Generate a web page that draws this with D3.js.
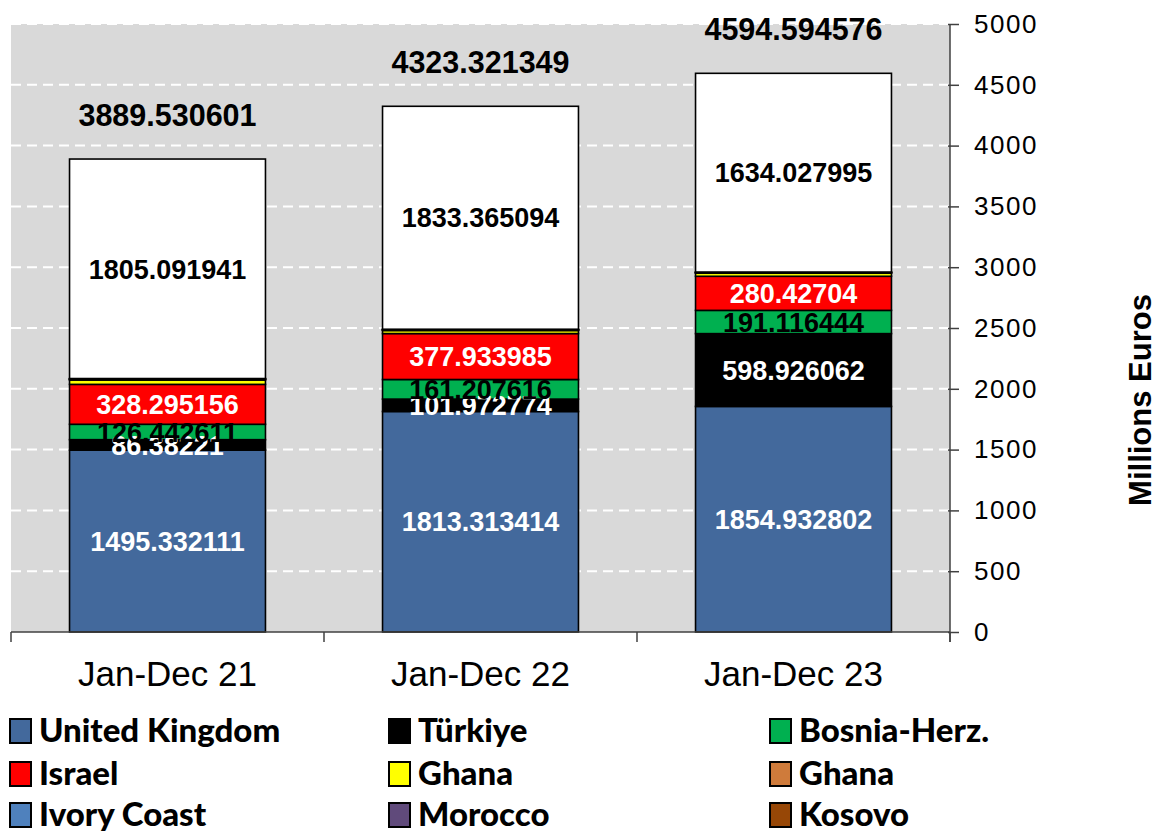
<!DOCTYPE html>
<html>
<head>
<meta charset="utf-8">
<script src="https://cdn.jsdelivr.net/npm/d3@7"></script>
<style>
  body { margin: 0; background: #fff; }
  svg { display: block; }
</style>
</head>
<body>
<div id="chart"></div>
<script>
// Données
const periods = ["Jan-Dec 21", "Jan-Dec 22", "Jan-Dec 23"];
const totals = ["3889.530601", "4323.321349", "4594.594576"];

const unitedKingdom = [1495.332111, 1813.313414, 1854.932802];
const turkiye = [86.38221, 101.972774, 598.926062];
const bosnia = [126.442611, 161.207616, 191.116444];
const israel = [328.295156, 377.933985, 280.42704];
const ghanaYellow = [36, 25, 25];
const ghanaOrange = [4, 3, 3];
const ivoryCoast = [3, 3, 3];
const morocco = [3, 2, 2];
const kosovo = [2, 2.5, 2];
const others = [1805.091941, 1833.365094, 1634.027995];

const yTicks = [0, 500, 1000, 1500, 2000, 2500, 3000, 3500, 4000, 4500, 5000];

const series = [
  { name: "United Kingdom", values: unitedKingdom, color: "#43699c", label: true, labelColor: "#fff" },
  { name: "Türkiye", values: turkiye, color: "#000000", label: true, labelColor: "#fff" },
  { name: "Bosnia-Herz.", values: bosnia, color: "#00b050", label: true, labelColor: "#000" },
  { name: "Israel", values: israel, color: "#ff0000", label: true, labelColor: "#fff" },
  { name: "Ghana", values: ghanaYellow, color: "#ffff00" },
  { name: "Ghana", values: ghanaOrange, color: "#cf7b3b" },
  { name: "Ivory Coast", values: ivoryCoast, color: "#4f81bd" },
  { name: "Morocco", values: morocco, color: "#604a7b" },
  { name: "Kosovo", values: kosovo, color: "#974706" },
  { name: "Others", values: others, color: "#ffffff", label: true, labelColor: "#000", noLegend: true },
];

const width = 1162;
const height = 835;
const plot = { left: 11, right: 950, top: 24, bottom: 632 };

const svg = d3.select("#chart").append("svg")
  .attr("width", width)
  .attr("height", height);

const x = d3.scaleBand()
  .domain(periods)
  .range([plot.left, plot.right])
  .paddingInner(0.374)
  .paddingOuter(0.187);

const y = d3.scaleLinear()
  .domain([0, 5000])
  .range([plot.bottom, plot.top]);

// Fond gris
svg.append("rect")
  .attr("x", plot.left)
  .attr("y", plot.top)
  .attr("width", plot.right - plot.left)
  .attr("height", plot.bottom - plot.top)
  .attr("fill", "#d9d9d9");

// Grille
svg.append("g")
  .selectAll("line")
  .data(yTicks.filter((d) => d > 0))
  .enter()
  .append("line")
  .attr("x1", plot.left)
  .attr("x2", plot.right)
  .attr("y1", (d) => y(d))
  .attr("y2", (d) => y(d))
  .attr("stroke", "#fff")
  .attr("stroke-width", 2)
  .attr("stroke-dasharray", "10,6");

// Pile
const rows = periods.map((p, i) => {
  const r = { period: p };
  series.forEach((s, k) => (r["s" + k] = s.values[i]));
  return r;
});
const stack = d3.stack().keys(series.map((s, k) => "s" + k));
const layers = stack(rows);

const bars = svg.append("g");
layers.forEach((layer, k) => {
  bars.selectAll(null)
    .data(layer)
    .enter()
    .append("rect")
    .attr("x", (d) => x(d.data.period))
    .attr("y", (d) => y(d[1]))
    .attr("width", x.bandwidth())
    .attr("height", (d) => y(d[0]) - y(d[1]))
    .attr("fill", series[k].color)
    .attr("stroke", "#000")
    .attr("stroke-width", 1.6);
});

// Étiquettes des segments
const labels = svg.append("g")
  .style("font-family", "'Liberation Sans', Arial, sans-serif")
  .style("font-weight", "bold")
  .style("font-size", "27px");
layers.forEach((layer, k) => {
  if (!series[k].label) return;
  labels.selectAll(null)
    .data(layer)
    .enter()
    .append("text")
    .attr("x", (d) => x(d.data.period) + x.bandwidth() / 2)
    .attr("y", (d) => (y(d[0]) + y(d[1])) / 2)
    .attr("dy", "0.36em")
    .attr("text-anchor", "middle")
    .attr("fill", series[k].labelColor)
    .text((d, i) => String(series[k].values[i]));
});

// Totaux
const topLayer = layers[layers.length - 1];
labels.selectAll(null)
  .data(topLayer)
  .enter()
  .append("text")
  .attr("x", (d) => x(d.data.period) + x.bandwidth() / 2)
  .attr("y", (d) => y(d[1]) - 33)
  .attr("text-anchor", "middle")
  .style("font-size", "30.5px")
  .attr("fill", "#000")
  .text((d, i) => totals[i]);

// Axe Y à droite
const yAxis = svg.append("g")
  .attr("transform", `translate(${plot.right},0)`)
  .call(d3.axisRight(y).tickValues(yTicks).tickSize(9).tickPadding(15).tickFormat(d3.format("d")));
yAxis.select(".domain").attr("stroke", "#404040").attr("stroke-width", 1.5).attr("d", `M0,${plot.top}V${plot.bottom + 10}`);
yAxis.selectAll(".tick line").attr("stroke", "#404040").attr("stroke-width", 1.5).attr("x1", -2);
yAxis.selectAll(".tick text")
  .style("font-family", "'Liberation Sans', Arial, sans-serif")
  .style("font-size", "26px")
  .style("letter-spacing", "1.5px")
  .attr("fill", "#000");

// Axe X
svg.append("line")
  .attr("x1", plot.left)
  .attr("x2", plot.right)
  .attr("y1", plot.bottom)
  .attr("y2", plot.bottom)
  .attr("stroke", "#404040")
  .attr("stroke-width", 1.5);
const bounds = periods.map((p) => x(p) - x.step() * 0.187).concat([plot.right]);
svg.append("g")
  .selectAll("line")
  .data(bounds)
  .enter()
  .append("line")
  .attr("x1", (d) => d)
  .attr("x2", (d) => d)
  .attr("y1", plot.bottom)
  .attr("y2", plot.bottom + 10)
  .attr("stroke", "#404040")
  .attr("stroke-width", 1.5);
svg.append("g")
  .selectAll("text")
  .data(periods)
  .enter()
  .append("text")
  .attr("x", (d) => x(d) + x.bandwidth() / 2)
  .attr("y", 686)
  .attr("text-anchor", "middle")
  .style("font-family", "'Liberation Sans', Arial, sans-serif")
  .style("font-size", "35px")
  .attr("fill", "#000")
  .text((d) => d);

// Titre Y
svg.append("text")
  .attr("transform", "translate(1151,400) rotate(-90)")
  .attr("text-anchor", "middle")
  .style("font-family", "'Liberation Sans', Arial, sans-serif")
  .style("font-weight", "bold")
  .style("font-size", "31px")
  .attr("fill", "#000")
  .text("Millions Euros");

// Légende
const legendItems = series.filter((s) => !s.noLegend);
const colX = [9, 388, 769];
const rowY = [731, 774, 815];
const legend = svg.append("g");
legendItems.forEach((s, i) => {
  const g = legend.append("g")
    .attr("transform", `translate(${colX[i % 3]},${rowY[Math.floor(i / 3)]})`);
  g.append("rect")
    .attr("x", 1)
    .attr("y", -12)
    .attr("width", 21)
    .attr("height", 24)
    .attr("fill", s.color)
    .attr("stroke", "#000")
    .attr("stroke-width", 2);
  g.append("text")
    .attr("x", 30)
    .attr("y", 0)
    .attr("dy", "0.34em")
    .style("font-family", "Lato, 'Open Sans', sans-serif")
    .style("font-weight", "900")
    .style("font-size", "33px")
    .attr("fill", "#000")
    .text(s.name);
});
</script>
</body>
</html>
